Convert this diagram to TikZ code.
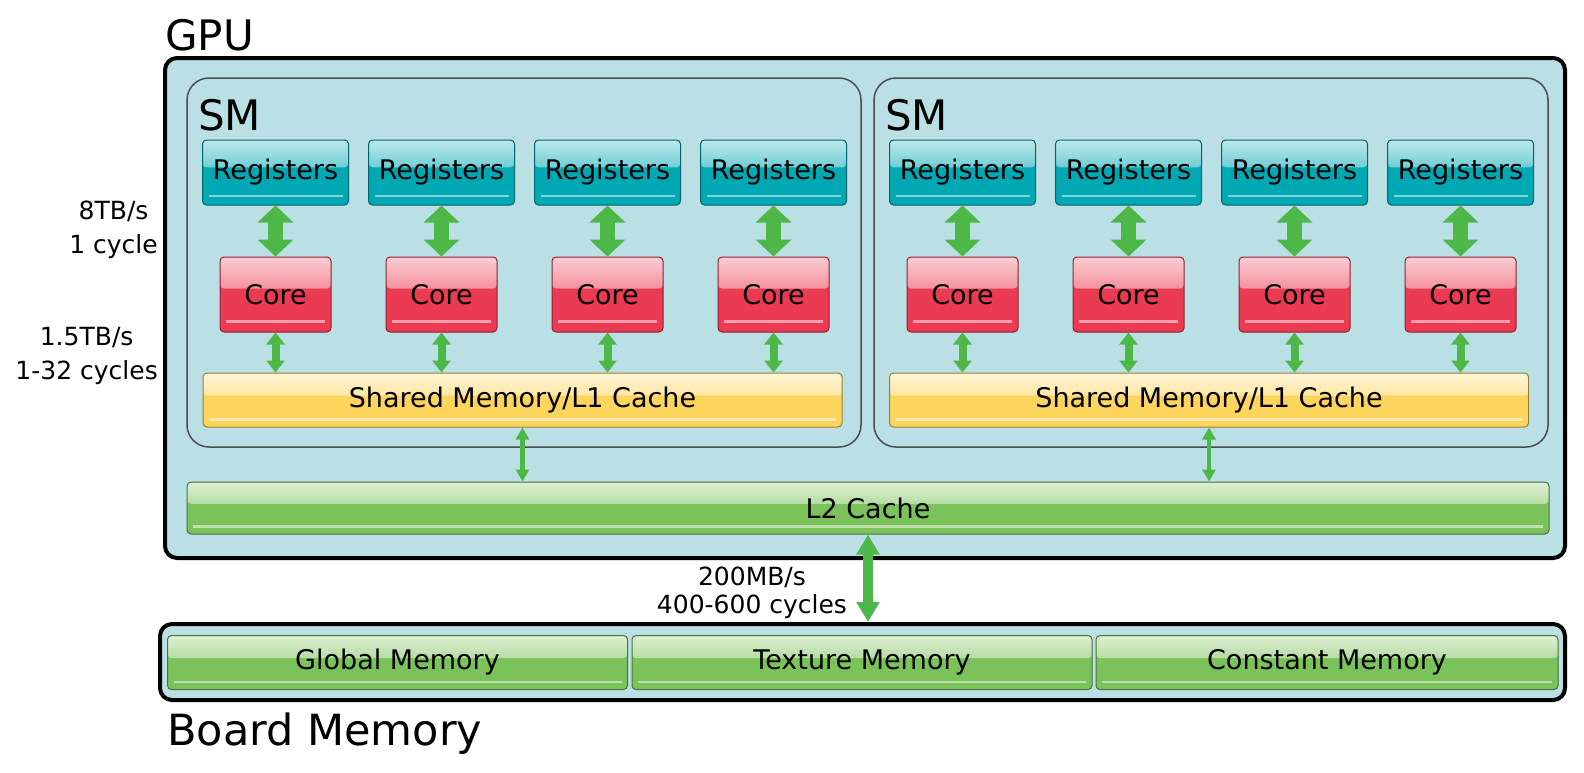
\documentclass[tikz,border=0pt]{standalone}
\usepackage{fontspec}
\setmainfont{DejaVu Sans}
\usetikzlibrary{arrows.meta,calc}
\definecolor{gpubg}{HTML}{BAE0E5}
\definecolor{regteal}{HTML}{00A8B3}
\definecolor{corered}{HTML}{EB3B52}
\definecolor{shmyellow}{HTML}{FDD45C}
\definecolor{memgreen}{HTML}{7CC25A}
\definecolor{arrgreen}{HTML}{4DB848}
\begin{document}
\begin{tikzpicture}[x=1pt, y=-1pt,
    every node/.style={font=\fontsize{27}{32}\selectfont},
    gloss/.style={draw=#1!60!black, fill=#1, rounded corners=4pt, line width=1pt,
      path picture={
        \shade[top color=#1!25!white, bottom color=#1]
          (path picture bounding box.north west) rectangle
          ($(path picture bounding box.north east)!0.42!(path picture bounding box.south east)$);
        \draw[#1!50!white, line width=2.5pt]
          ($(path picture bounding box.north west)!0.86!(path picture bounding box.south west)+(6,0)$) --
          ($(path picture bounding box.north east)!0.86!(path picture bounding box.south east)+(-6,0)$);}},
    register/.style={gloss=regteal, minimum width=146pt, minimum height=65pt},
    core/.style={gloss=corered, minimum width=111pt, minimum height=75pt},
    sharedmem/.style={gloss=shmyellow, minimum width=639pt, minimum height=54pt},
    cachebar/.style={gloss=memgreen, minimum height=54pt},
    frame/.style={draw=black, line width=4pt, fill=gpubg, rounded corners=12pt},
    smframe/.style={draw=black!70, line width=1.5pt, rounded corners=22pt,
      minimum width=674pt, minimum height=369pt},
    title/.style={anchor=base west, inner sep=0pt, font=\fontsize{42}{48}\selectfont},
    speed/.style={inner sep=0pt, align=center, font=\fontsize{25}{34}\selectfont},
    regarrow/.style={draw=arrgreen, line width=15pt,
      {Triangle[width=35pt,length=17pt]}-{Triangle[width=35pt,length=17pt]}},
    corearrow/.style={draw=arrgreen, line width=8pt,
      {Triangle[width=18pt,length=12pt]}-{Triangle[width=18pt,length=12pt]}},
    smarrow/.style={draw=arrgreen, line width=4.5pt,
      {Triangle[width=13pt,length=12pt]}-{Triangle[width=13pt,length=12pt]}},
    busarrow/.style={draw=arrgreen, line width=10pt,
      {Triangle[width=22pt,length=20pt]}-{Triangle[width=22pt,length=20pt]}},
    ]
    \useasboundingbox (0,0) rectangle (1584,772);
    \node[frame, minimum width=1400pt, minimum height=500pt] (gpu) at (865,308) {};
    \node[title] (gputitle) at (165,50) {GPU};
    \node[smframe] (sm1) at (524,262.5) {};
    \node[smframe] (sm2) at (1211,262.5) {};
    \node[title] (smtitle1) at (198,130) {SM};
    \node[title] (smtitle2) at (885,130) {SM};
    \node[sharedmem] (shm1) at (522.5,400) {Shared Memory/L1 Cache};
    \node[sharedmem] (shm2) at (1209,400) {Shared Memory/L1 Cache};
    \node[cachebar, minimum width=1362pt, minimum height=52pt] (l2) at (868,508) {L2 Cache};
    \foreach \s/\ox in {1/0,2/687}
      \foreach \i in {1,...,4} {
        \node[register] (reg\s\i) at ({275.5+166*(\i-1)+\ox},172.5) {Registers};
        \node[core] (core\s\i) at ({275.5+166*(\i-1)+\ox},294.5) {Core};
        \draw[regarrow] (reg\s\i.south) -- (core\s\i.north);
        \draw[corearrow] (core\s\i.south) -- (core\s\i.south |- shm\s.north);
      }
    \draw[smarrow] (shm1.south) -- (shm1.south |- l2.north);
    \draw[smarrow] (shm2.south) -- (shm2.south |- l2.north);
    \node[frame, minimum width=1405pt, minimum height=76pt] (board) at (862.5,662) {};
    \node[cachebar, minimum width=460pt] (globalmem) at (397.5,662.5) {Global Memory};
    \node[cachebar, minimum width=460pt] (texturemem) at (862,662.5) {Texture Memory};
    \node[cachebar, minimum width=462pt] (constantmem) at (1327,662.5) {Constant Memory};
    \node[title, font=\fontsize{43}{48}\selectfont] (boardtitle) at (167,745) {Board Memory};
    \draw[busarrow] (l2.south) -- (l2.south |- board.north);
    \node[speed, anchor=east] (regspeed) at (158,230) {8TB/s\\1 cycle};
    \node[speed, anchor=east] (shmspeed) at (158,356) {1.5TB/s\\1-32 cycles};
    \node[speed, font=\fontsize{25}{28}\selectfont] (busspeed) at (752,593) {200MB/s\\400-600 cycles};
\end{tikzpicture}
\end{document}
